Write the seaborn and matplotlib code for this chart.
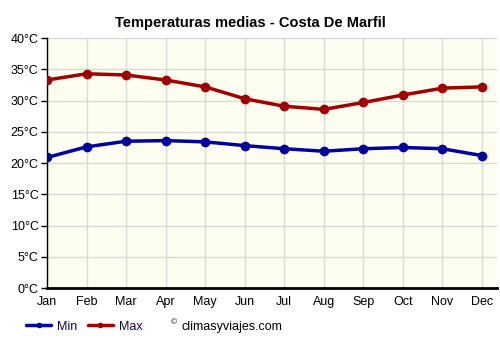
import matplotlib
matplotlib.use('Agg')
import matplotlib.pyplot as plt
import seaborn as sns
import pandas as pd

# datos
meses = ['Jan', 'Feb', 'Mar', 'Apr', 'May', 'Jun', 'Jul', 'Aug', 'Sep', 'Oct', 'Nov', 'Dec']
temp_min = [20.9, 22.6, 23.5, 23.6, 23.4, 22.8, 22.3, 21.9, 22.3, 22.5, 22.3, 21.2]
temp_max = [33.3, 34.3, 34.1, 33.3, 32.2, 30.3, 29.1, 28.6, 29.7, 30.9, 32.0, 32.2]
yticks = [0, 5, 10, 15, 20, 25, 30, 35, 40]

df = pd.DataFrame({
    'mes': list(range(12)) * 2,
    'temp': temp_min + temp_max,
    'serie': ['Min'] * 12 + ['Max'] * 12,
})

sns.set_style('white')
plt.rcParams['font.family'] = ['Liberation Sans', 'DejaVu Sans']
plt.rcParams['text.color'] = 'black'
plt.rcParams['xtick.color'] = 'black'
plt.rcParams['ytick.color'] = 'black'

fig = plt.figure(figsize=(5, 3.5), dpi=100)
ax = fig.add_axes([0.094, 0.177, 0.9, 0.714])
ax.set_facecolor('#fefef0')

sns.lineplot(data=df, x='mes', y='temp', hue='serie',
             palette={'Min': '#00009c', 'Max': '#a00000'},
             marker='o', markersize=7, markeredgewidth=0,
             linewidth=2.5, ax=ax, legend=False, zorder=3)

ax.set_xlim(0, 11.38)
ax.set_ylim(0, 40)
ax.set_xticks(range(12))
ax.set_xticklabels(meses, fontsize=9)
ax.set_yticks(yticks)
ax.set_yticklabels([f'{t}°C' for t in yticks], fontsize=9)
ax.set_xlabel('')
ax.set_ylabel('')
ax.grid(True, color='#d8d8d8', linewidth=1)
ax.set_axisbelow(True)

for s in ['top', 'right']:
    ax.spines[s].set_visible(False)
ax.spines['left'].set_color('black')
ax.spines['left'].set_linewidth(1)
ax.spines['bottom'].set_color('black')
ax.spines['bottom'].set_linewidth(2)
ax.tick_params(axis='y', left=True, length=4, width=1, color='black', pad=2)
ax.tick_params(axis='x', bottom=False, pad=2)

fig.suptitle('Temperaturas medias - Costa De Marfil', fontsize=10.5, fontweight='bold',
             y=0.955, color='black')

# leyenda
h_min = plt.Line2D([], [], color='#00009c', linewidth=2.5, marker='o', markersize=3)
h_max = plt.Line2D([], [], color='#a00000', linewidth=2.5, marker='o', markersize=3)
fig.legend([h_min, h_max], ['Min', 'Max'], loc='center left', bbox_to_anchor=(0.03, 0.067),
           ncol=2, frameon=False, fontsize=9, handlelength=2.0, columnspacing=0.8,
           handletextpad=0.5, labelcolor='#1a0050')
fig.text(0.342, 0.067, '©', fontsize=6, va='bottom')
fig.text(0.362, 0.067, 'climasyviajes.com', fontsize=9, va='center')

plt.savefig('out.png', dpi=100)
plt.close()
